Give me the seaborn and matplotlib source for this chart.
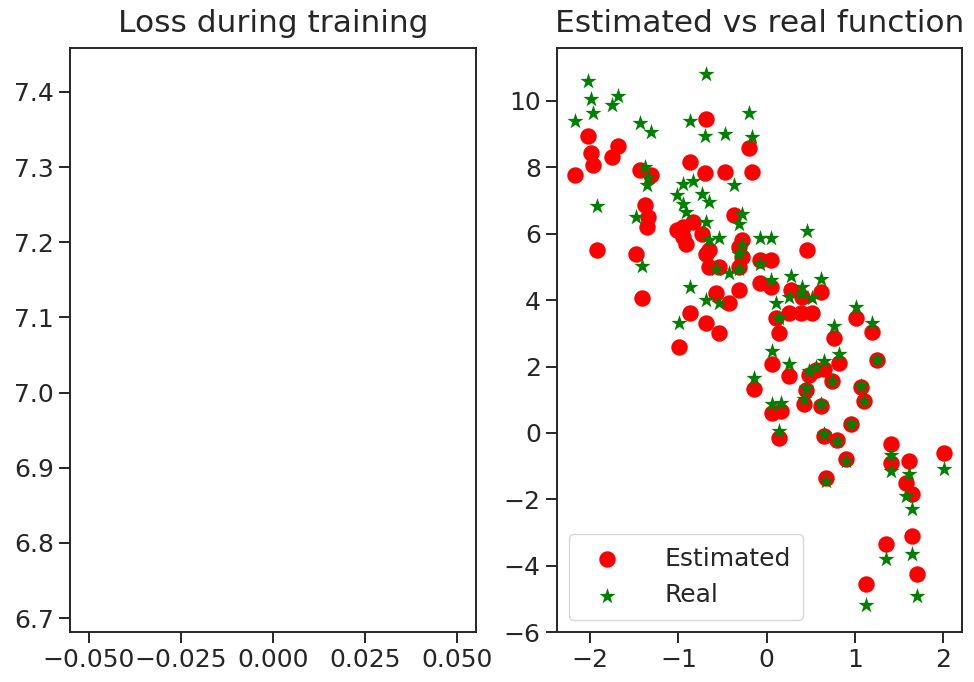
import numpy as np
import matplotlib
matplotlib.use("Agg")
import matplotlib.pyplot as plt
import seaborn as sns

# loss history (only one epoch recorded)
loss_epochs = [0]
losses = [7.07]

# inputs, model output and true target
x_vals = [-2.17, -2.02, -1.99, -1.97, -1.92, -1.75, -1.68, -1.48, -1.44, -1.41,
          -1.38, -1.35, -1.36, -1.31, -0.99, -0.87, -0.87, -0.69, -0.70, -0.47,
          -0.37, -0.20, -0.17, -1.02, -0.95, -0.95, -0.91, -0.84, -0.73, -0.69,
          -0.65, -0.65, -0.57, -0.54, -0.69, -0.54, -0.43, -0.28, -0.31, -0.28,
          -0.31, -0.31, -0.08, 0.46, -0.08, 0.05, 0.28, 0.62, 0.40, 0.05,
          0.11, 0.14, 0.25, 0.39, 0.52, 1.01, 1.19, 0.76, 0.06, 0.25,
          -0.14, 0.82, 0.65, 0.48, 0.56, 0.74, 0.45, 0.42, 0.62, 1.07,
          1.10, 0.06, 0.16, 0.14, 0.65, 0.96, 0.80, 0.90, 0.67, 1.25,
          1.41, 1.41, 1.61, 2.01, 1.58, 1.65, 1.35, 1.65, 1.71, 1.13]
y_estimated = [7.76, 8.94, 8.43, 8.07, 5.50, 8.31, 8.64, 5.38, 7.91, 4.05,
               6.86, 6.50, 6.20, 7.76, 2.60, 3.60, 8.16, 9.46, 7.82, 7.85,
               6.55, 8.58, 7.85, 6.10, 6.20, 5.90, 5.70, 6.35, 6.00, 5.40,
               5.50, 5.00, 4.20, 5.00, 3.30, 3.00, 3.90, 5.80, 5.60, 5.30,
               5.00, 4.30, 4.50, 5.50, 5.20, 5.20, 4.30, 4.23, 4.10, 4.40,
               3.45, 3.00, 3.60, 3.60, 3.60, 3.47, 3.03, 2.87, 2.08, 1.72,
               1.33, 2.10, 1.93, 1.75, 1.90, 1.55, 1.30, 0.88, 0.82, 1.38,
               0.97, 0.60, 0.66, -0.15, -0.09, 0.27, -0.20, -0.79, -1.36, 2.20,
               -0.33, -0.90, -0.85, -0.60, -1.50, -1.84, -3.35, -3.10, -4.26, -4.56]
y_real = [9.40, 10.60, 10.06, 9.64, 6.83, 9.88, 10.15, 6.50, 9.33, 5.02,
          8.00, 7.70, 7.46, 9.06, 3.32, 4.38, 9.40, 10.80, 8.94, 9.00,
          7.46, 9.64, 8.90, 7.15, 7.50, 6.90, 6.65, 7.60, 7.20, 6.35,
          6.95, 5.80, 4.95, 5.86, 4.00, 3.90, 4.83, 6.60, 6.30, 5.65,
          5.40, 4.95, 5.10, 6.07, 5.86, 5.86, 4.74, 4.65, 4.40, 4.60,
          3.90, 3.45, 4.10, 4.20, 4.05, 3.78, 3.30, 3.23, 2.47, 2.08,
          1.66, 2.38, 2.17, 1.87, 2.00, 1.57, 1.36, 1.03, 0.88, 1.42,
          0.97, 0.88, 0.90, 0.06, -0.03, 0.27, -0.24, -0.85, -1.45, 2.20,
          -0.65, -1.15, -1.24, -1.09, -1.90, -2.30, -3.80, -3.66, -4.92, -5.17]

sns.set_style("ticks")
plt.rcParams["font.family"] = ["DejaVu Sans"]

fig, (ax1, ax2) = plt.subplots(1, 2, figsize=(9.74, 6.82), dpi=100)
fig.subplots_adjust(left=0.072, right=0.988, bottom=0.073, top=0.93, wspace=0.2)

# left: loss curve (single value -> empty looking axes)
sns.lineplot(x=loss_epochs, y=losses, ax=ax1, color="C0", linewidth=2.5)
ax1.set_title("Loss during training", fontsize=22.5, pad=11)

# right: estimated vs real
sns.scatterplot(x=x_vals, y=y_estimated, ax=ax2, color="red", marker="o",
                s=140, linewidth=0, label="Estimated")
sns.scatterplot(x=x_vals, y=y_real, ax=ax2, color="green", marker="*",
                s=150, linewidth=0, label="Real")
ax2.set_title("Estimated vs real function", fontsize=22.5, pad=11)
ax2.set_xticks([-2, -1, 0, 1, 2])
ax2.set_yticks([-6, -4, -2, 0, 2, 4, 6, 8, 10])
ax2.legend(loc="lower left", fontsize=18, frameon=True, handletextpad=1.3,
           borderpad=0.5, markerscale=1.0)

for ax in (ax1, ax2):
    ax.tick_params(labelsize=18, length=8, width=1.4)
    for sp in ax.spines.values():
        sp.set_linewidth(1.4)

fig.savefig("out.png", dpi=100)
